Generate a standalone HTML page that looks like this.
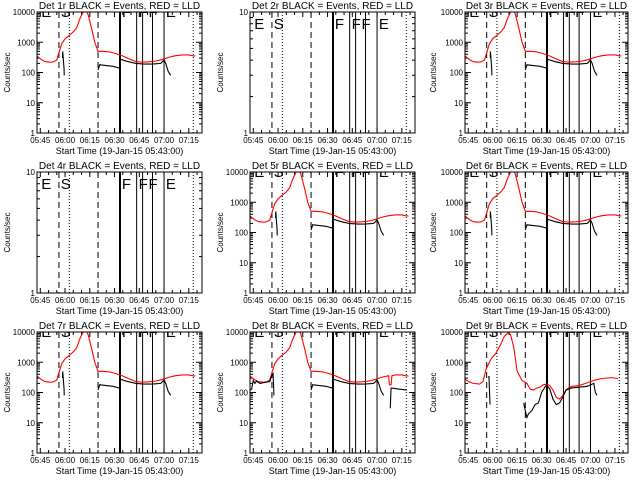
<!DOCTYPE html>
<html><head><meta charset="utf-8"><style>
body{margin:0;background:#fff}
svg{display:block}
text{font-family:"Liberation Sans",sans-serif;fill:#000}
</style></head><body>
<svg id="c" width="640" height="480" viewBox="0 0 640 480"></svg>
<script>
// time in minutes after 05:43:00
const xTickMins = [2,17,32,47,62,77,92];
const xTickLabels = ["05:45","06:00","06:15","06:30","06:45","07:00","07:15"];
const yTickVals = [1,10,100,1000,10000];
const yTickLabels = ["1","10","100","1000","10000"];
const dashedLines = [13.3,37];
const dottedLines = [19.6,94.7];
const solidLines = [60.4,64,70,77];
const thickLines = [50.3];
const panelTitles = ["Det 1r","Det 2r","Det 3r","Det 4r","Det 5r","Det 6r","Det 7r","Det 8r","Det 9r"];
const emptyPanels = [1,3];
const letterMins = [2,13.8,50.8,61,67,77.5];
const letterText = ["E","S","F","F","F","E"];
const redT = [0,3,5,8,10,12,13,15,17,19,22,24,26,28,29,30,31,33,35,37,40,44,48,52,56,60,64,68,72,76,80,84,88,92,94,96];
const redV = [350,260,230,220,225,260,400,900,1300,1600,2200,3000,6000,10000,12000,11000,8000,3000,1000,500,500,480,420,350,280,230,220,225,240,270,320,360,380,380,360,350];
const blkS1T = [15.5,15.6,16.4,16.5];
const blkS1V = [300,500,130,80];
const blkS2T = [37,38,42,46,50,50.2,51,55,60,65,70,75,77,78,79.5,81];
const blkS2V = [120,180,170,160,140,250,270,230,200,190,190,200,260,200,110,80];
const r8T = [0,3,5,8,10,12,13,15,17,19,22,24,26,28,29,30,31,33,35,37,40,44,48,52,56,60,64,68,72,76,80,84,84.5,85.5,86,88,92,94,96];
const r8V = [350,260,230,220,225,260,400,900,1300,1600,2200,3000,6000,10000,12000,11000,8000,3000,1000,500,500,480,420,350,280,230,220,225,240,270,320,360,180,180,360,380,380,360,350];
const b8aT = [0,1,2,3,4,6,10,12,13,14,14.5];
const b8aV = [120,130,250,200,240,200,220,230,350,420,80];
const b8bT = [85,85.5,86,90,95];
const b8bV = [30,140,140,130,120];
const r9T = [0,2,5,9,11,13,16,19,22,24,26,27,28,30,31,32,35,38,40,42,44,46,48,50,52,54,56,58,60,62,64,66,70,74,78,80,84,90,94];
const r9V = [280,230,200,190,230,600,1300,2000,4000,7000,9000,9500,8000,3000,1200,500,250,200,130,120,140,150,180,190,170,120,70,60,80,120,150,160,170,200,240,260,290,310,290];
const b9aT = [14.5,14.7,15.2,15.4];
const b9aV = [300,350,60,40];
const b9bT = [36,37,38,39,41,43,45,47,49,50,52,54,56,58,60,62,65,70,75,78,79,80,81];
const b9bV = [45,25,15,20,25,40,45,100,150,180,130,60,40,45,70,120,140,150,160,190,200,100,80];

const svg = document.getElementById('c');
const NS = 'http://www.w3.org/2000/svg';
function mk(tag, attrs, parent){const e=document.createElementNS(NS,tag);for(const k in attrs)e.setAttribute(k,attrs[k]);(parent||svg).appendChild(e);return e;}

for(let p=0;p<9;p++){
  const col=p%3,row=Math.floor(p/3);
  const L = col===2 ? 465 : col*213+37;
  const R = col===2 ? 628 : col*213+202;
  const T = row*160+12, B = row*160+133;
  const empty = emptyPanels.includes(p);
  const yMax = empty?1:4;
  const x = m => L + (m/100)*(R-L);
  const y = v => B - (Math.log10(v)/yMax)*(B-T);
  const g = mk('g',{});
  
  
  const cid='clip'+p;
  const cp=mk('clipPath',{id:cid},g); mk('rect',{x:L,y:T,width:R-L,height:B-T},cp);
  const t = mk('text',{x:(L+R)/2,y:row*160+9,'font-size':'10','text-anchor':'middle'},g);
  t.textContent = panelTitles[p]+" BLACK = Events, RED = LLD";
  
  
  const yl = mk('text',{x:0,y:0,'font-size':'8','text-anchor':'middle',transform:`translate(${col*213+10},${(T+B)/2}) rotate(-90)`},g);
  yl.textContent = "Counts/sec";
  
  
  const xl = mk('text',{x:(L+R)/2,y:row*160+154,'font-size':'9','text-anchor':'middle'},g);
  xl.textContent = "Start Time (19-Jan-15 05:43:00)";
  
  
  for(let m=2;m<100;m+=5){
    const major = xTickMins.includes(m);
    const len = major?5:3;
    mk('line',{x1:x(m),x2:x(m),y1:B,y2:B-len,stroke:'#000'},g);
    mk('line',{x1:x(m),x2:x(m),y1:T,y2:T+len,stroke:'#000'},g);
  }
  xTickMins.forEach((m,i)=>{
    const tl=mk('text',{x:x(m),y:B+10,'font-size':'8','text-anchor':'middle'},g);
    tl.textContent=xTickLabels[i];
    
    
  });
  for(let d=0;d<yMax;d++){
    for(let k=1;k<=9;k++){
      const v=Math.pow(10,d)*k; const len=k===1?6:3;
      mk('line',{x1:L,x2:L+len,y1:y(v),y2:y(v),stroke:'#000'},g);
      mk('line',{x1:R,x2:R-len,y1:y(v),y2:y(v),stroke:'#000'},g);
    }
  }
  yTickVals.slice(0,yMax+1).forEach((v,i)=>{
    const tl=mk('text',{x:L-2,y:y(v)+3,'font-size':'8','text-anchor':'end'},g);
    tl.textContent=yTickLabels[i];
    
    
  });
  dashedLines.forEach(m=>mk('line',{x1:x(m),x2:x(m),y1:T,y2:B,stroke:'#000','stroke-dasharray':'6,4'},g));
  dottedLines.forEach(m=>mk('line',{x1:x(m),x2:x(m),y1:T,y2:B,stroke:'#000','stroke-dasharray':'1,2'},g));
  solidLines.forEach(m=>mk('line',{x1:x(m),x2:x(m),y1:T,y2:B,stroke:'#000','stroke-width':1},g));
  thickLines.forEach(m=>mk('line',{x1:x(m),x2:x(m),y1:T,y2:B,stroke:'#000','stroke-width':2},g));
  letterMins.forEach((m,i)=>{
    const lt=mk('text',{x:x(m)+1,y:T+(empty?17:5),'font-size':'15','clip-path':`url(#${cid})`},g);
    lt.textContent=letterText[i];
    
    
  });
  const line=(ts,vs,color,name)=>{
    const pl=mk('polyline',{points:ts.map((m,i)=>x(m)+','+y(vs[i])).join(' '),fill:'none',stroke:color,'stroke-width':1.1,'clip-path':`url(#${cid})`},g);
    
    
  };
  if(!empty){
    if(p===7){line(r8T,r8V,'#f00','lld-series');line(b8aT,b8aV,'#000','events-series');line(blkS2T,blkS2V,'#000','events-series');line(b8bT,b8bV,'#000','events-series');}
    else if(p===8){line(r9T,r9V,'#f00','lld-series');line(b9aT,b9aV,'#000','events-series');line(b9bT,b9bV,'#000','events-series');}
    else {line(redT,redV,'#f00','lld-series');line(blkS1T,blkS1V,'#000','events-series');line(blkS2T,blkS2V,'#000','events-series');}
  }
  mk('rect',{x:L,y:T,width:R-L,height:B-T,fill:'none',stroke:'#000'},g);
}
</script>
</body></html>
